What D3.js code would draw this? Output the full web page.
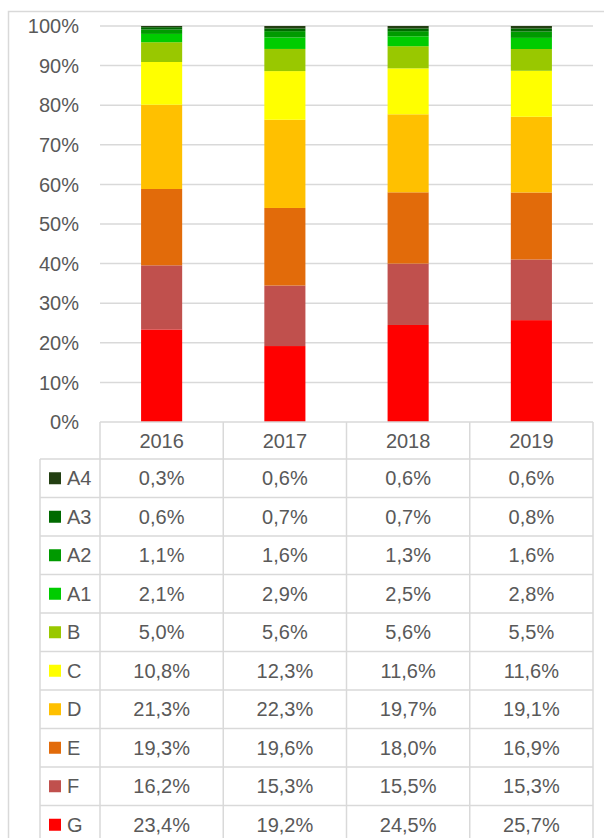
<!DOCTYPE html>
<html>
<head>
<meta charset="utf-8">
<script src="https://cdn.jsdelivr.net/npm/d3@7"></script>
<style>
  body{margin:0;background:#fff;}
  svg text{font-family:"Liberation Sans",Arial,sans-serif;fill:#595959;}
</style>
</head>
<body>
<div id="chart"></div>
<script>
var years=['2016','2017','2018','2019'];
var classes=['A4','A3','A2','A1','B','C','D','E','F','G'];
var colors=['#233f12','#006a00','#009a00','#00cc00','#99c800','#ffff00','#ffc000','#e26b0a','#c0504d','#ff0000'];
var A4=[0.3,0.6,0.6,0.6];
var A3=[0.6,0.7,0.7,0.8];
var A2=[1.1,1.6,1.3,1.6];
var A1=[2.1,2.9,2.5,2.8];
var B=[5.0,5.6,5.6,5.5];
var C=[10.8,12.3,11.6,11.6];
var D=[21.3,22.3,19.7,19.1];
var E=[19.3,19.6,18.0,16.9];
var F=[16.2,15.3,15.5,15.3];
var G=[23.4,19.2,24.5,25.7];
var yTicks=[0,0.1,0.2,0.3,0.4,0.5,0.6,0.7,0.8,0.9,1];

var series={A4:A4,A3:A3,A2:A2,A1:A1,B:B,C:C,D:D,E:E,F:F,G:G};
var rows=years.map(function(y,i){
    var r={year:y};
    classes.forEach(function(c){ r[c]=series[c][i]; });
    return r;
});

var W=604,H=838;
var svg=d3.select('#chart').append('svg')
    .attr('width',W).attr('height',H);

var grid='#d9d9d9';

// outer chart border
svg.append('rect')
    .attr('x',8.5).attr('y',11.5)
    .attr('width',W).attr('height',H)
    .attr('fill','none').attr('stroke',grid).attr('stroke-width',1.5);

var x=d3.scaleBand().domain(years).range([100,593]).padding(0);
var y=d3.scaleLinear().domain([0,1]).range([422,26]);
var color=d3.scaleOrdinal().domain(classes).range(colors);

// gridlines
svg.append('g').selectAll('line')
    .data(yTicks.slice(1))
    .enter().append('line')
    .attr('x1',100).attr('x2',593)
    .attr('y1',function(d){return y(d);})
    .attr('y2',function(d){return y(d);})
    .attr('stroke',grid).attr('stroke-width',1.5);

// y labels
svg.append('g').selectAll('text')
    .data(yTicks)
    .enter().append('text')
    .attr('x',79)
    .attr('y',function(d){return y(d);})
    .attr('dy','0.36em')
    .attr('text-anchor','end')
    .attr('font-size',20)
    .text(d3.format('.0%'));

// stacked bars (G at bottom)
var stack=d3.stack()
    .keys(classes.slice().reverse())
    .offset(d3.stackOffsetExpand);
var stacked=stack(rows);
var barW=x.bandwidth()/3;

svg.append('g').selectAll('g')
    .data(stacked)
    .enter().append('g')
    .attr('fill',function(d){return color(d.key);})
    .selectAll('rect')
    .data(function(d){return d;})
    .enter().append('rect')
    .attr('x',function(d){return x(d.data.year)+(x.bandwidth()-barW)/2;})
    .attr('width',barW)
    .attr('y',function(d){return y(d[1]);})
    .attr('height',function(d){return y(d[0])-y(d[1]);});

// data table
var rowY=d3.scaleBand().domain(classes).range([459,459+38.5*classes.length]);
var tbl=svg.append('g');

// horizontal lines
tbl.append('line')
    .attr('x1',100).attr('x2',593)
    .attr('y1',422).attr('y2',422)
    .attr('stroke',grid).attr('stroke-width',1.5);
tbl.selectAll('.hline')
    .data(classes)
    .enter().append('line')
    .attr('class','hline')
    .attr('x1',40).attr('x2',593)
    .attr('y1',function(d){return rowY(d);})
    .attr('y2',function(d){return rowY(d);})
    .attr('stroke',grid).attr('stroke-width',1.5);

// vertical lines
tbl.append('line')
    .attr('x1',40).attr('x2',40)
    .attr('y1',459).attr('y2',H)
    .attr('stroke',grid).attr('stroke-width',1.5);
tbl.selectAll('.vline')
    .data(years.concat(['end']))
    .enter().append('line')
    .attr('class','vline')
    .attr('x1',function(d){return d==='end'?x.range()[1]:x(d);})
    .attr('x2',function(d){return d==='end'?x.range()[1]:x(d);})
    .attr('y1',422).attr('y2',H)
    .attr('stroke',grid).attr('stroke-width',1.5);

// header years
tbl.selectAll('.year')
    .data(years)
    .enter().append('text')
    .attr('class','year')
    .attr('x',function(d){return x(d)+x.bandwidth()/2;})
    .attr('y',441)
    .attr('dy','0.36em')
    .attr('text-anchor','middle')
    .attr('font-size',20)
    .text(function(d){return d;});

// legend keys
tbl.selectAll('.key')
    .data(classes)
    .enter().append('rect')
    .attr('class','key')
    .attr('x',49)
    .attr('y',function(d){return rowY(d)+rowY.bandwidth()/2-6;})
    .attr('width',12).attr('height',12)
    .attr('fill',function(d){return color(d);});
tbl.selectAll('.keylabel')
    .data(classes)
    .enter().append('text')
    .attr('class','keylabel')
    .attr('x',67)
    .attr('y',function(d){return rowY(d)+rowY.bandwidth()/2;})
    .attr('dy','0.36em')
    .attr('font-size',20)
    .text(function(d){return d;});

// cell values
var fmt=function(v){return v.toFixed(1).replace('.',',')+'%';};
classes.forEach(function(c){
    tbl.selectAll('.cell-'+c)
        .data(series[c])
        .enter().append('text')
        .attr('x',function(d,i){return x(years[i])+x.bandwidth()/2;})
        .attr('y',rowY(c)+rowY.bandwidth()/2)
        .attr('dy','0.36em')
        .attr('text-anchor','middle')
        .attr('font-size',20)
        .text(fmt);
});
</script>
</body>
</html>
